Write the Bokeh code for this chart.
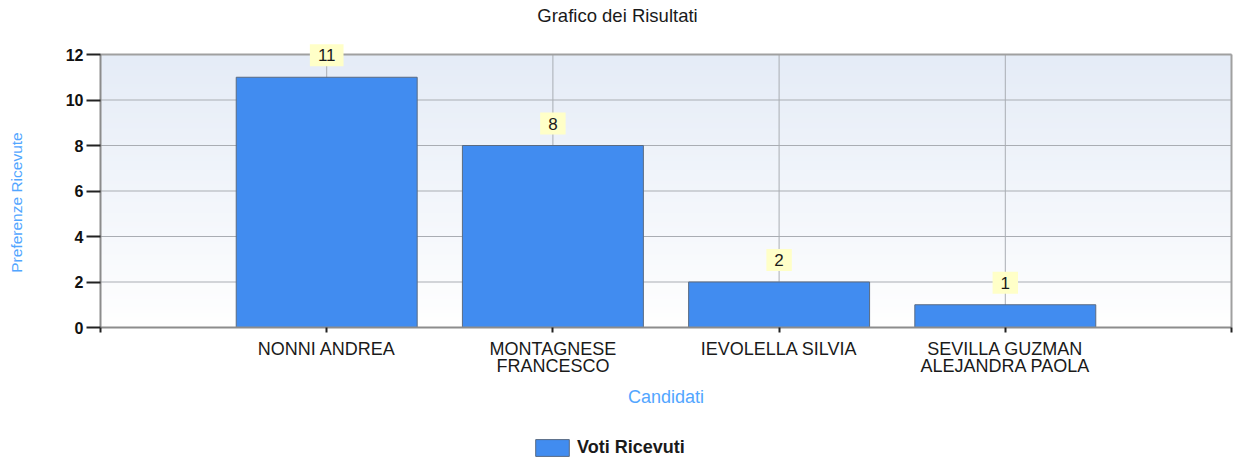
import numpy as np
from bokeh.plotting import figure
from bokeh.models import Range1d, FixedTicker, Label, Legend, LegendItem
from bokeh.embed import file_html
from bokeh.resources import INLINE

# ---- data ----
categories = ["NONNI ANDREA", "MONTAGNESE\nFRANCESCO", "IEVOLELLA SILVIA",
              "SEVILLA GUZMAN\nALEJANDRA PAOLA"]
votes = [11, 8, 2, 1]
y_ticks = [0, 2, 4, 6, 8, 10, 12]
series_name = "Voti Ricevuti"
title_text = "Grafico dei Risultati"
x_title = "Candidati"
y_title = "Preferenze Ricevute"

positions = list(range(1, len(categories) + 1))
X_MAX = len(categories) + 1
Y_MAX = y_ticks[-1]

# ---- layout (pixels of the 1234x461 canvas) ----
W, H = 1234, 461
PLOT_L, PLOT_R, PLOT_T, PLOT_B = 100, 1231, 54, 327
SX = (PLOT_R - PLOT_L) / X_MAX
SY = (PLOT_B - PLOT_T) / Y_MAX


def px2x(px):
    return (px - PLOT_L) / SX


def px2y(py):
    return (PLOT_B - py) / SY


FONT = "Liberation Sans"
GRID = "#a9adb3"
BORDER = "#a0a0a0"
AXIS = "#8c8c8c"
TXT = "#1a1a1a"
BLUE_TXT = "#52a6ff"

p = figure(width=W, height=H, output_backend="svg", toolbar_location=None,
           x_range=Range1d(px2x(0), px2x(W)), y_range=Range1d(px2y(H), px2y(0)),
           min_border=0, title=None)
p.background_fill_color = "white"
p.border_fill_color = "white"
p.outline_line_color = None
p.grid.visible = False

# gradient background of the plot area
n = 256
top_c = np.array([229, 236, 247], dtype=float)
bot_c = np.array([255, 255, 255], dtype=float)
t = np.linspace(0, 1, n)[:, None]  # 0 bottom -> 1 top
rgb = bot_c * (1 - t) + top_c * t
img = np.zeros((n, 1), dtype=np.uint32)
view = img.view(dtype=np.uint8).reshape((n, 1, 4))
view[:, 0, 0] = rgb[:, 0].astype(np.uint8)
view[:, 0, 1] = rgb[:, 1].astype(np.uint8)
view[:, 0, 2] = rgb[:, 2].astype(np.uint8)
view[:, 0, 3] = 255
p.image_rgba(image=[img], x=0, y=0, dw=X_MAX, dh=Y_MAX, level="image")

# grid lines
p.segment(x0=[0] * len(y_ticks), x1=[X_MAX] * len(y_ticks), y0=y_ticks, y1=y_ticks,
          line_color=GRID, line_width=1, level="underlay")
p.segment(x0=positions, x1=positions, y0=[0] * len(positions), y1=[Y_MAX] * len(positions),
          line_color=GRID, line_width=1, level="underlay")
# plot-area border (top, right)
p.segment(x0=[0, X_MAX], x1=[X_MAX, X_MAX], y0=[Y_MAX, 0], y1=[Y_MAX, Y_MAX],
          line_color=BORDER, line_width=2, level="underlay")

bars = p.vbar(x=positions, top=votes, width=0.8, fill_color="#418CF0",
              line_color="#5a6b82", line_width=1)

# value labels
for xv, v in zip(positions, votes):
    p.add_layout(Label(x=xv, y=v, text=str(v), text_align="center",
                       text_baseline="bottom", y_offset=11,
                       text_font=FONT, text_font_size="17px", text_color=TXT,
                       background_fill_color="#ffffc8", padding=(8, 5)))

# y axis (drawn at x = 0)
p.yaxis.fixed_location = 0
p.yaxis.bounds = (0, Y_MAX)
p.yaxis.ticker = FixedTicker(ticks=y_ticks)
p.yaxis.major_tick_out = 14
p.yaxis.major_tick_in = 0
p.yaxis.minor_tick_line_color = None
p.yaxis.major_tick_line_color = "#222222"
p.yaxis.major_tick_line_width = 2
p.yaxis.axis_line_color = AXIS
p.yaxis.axis_line_width = 2
p.yaxis.major_label_text_font = FONT
p.yaxis.major_label_text_font_style = "bold"
p.yaxis.major_label_text_font_size = "16px"
p.yaxis.major_label_text_color = "#111111"
p.yaxis.major_label_standoff = 3

# x axis (drawn at y = 0)
p.xaxis.fixed_location = 0
p.xaxis.bounds = (0, X_MAX)
p.xaxis.ticker = FixedTicker(ticks=[0] + positions + [X_MAX])
overrides = {0: "", X_MAX: ""}
for xv, c in zip(positions, categories):
    overrides[xv] = c
p.xaxis.major_label_overrides = overrides
p.xaxis.major_tick_out = 5
p.xaxis.major_tick_in = 0
p.xaxis.minor_tick_line_color = None
p.xaxis.major_tick_line_color = "#222222"
p.xaxis.major_tick_line_width = 2
p.xaxis.axis_line_color = AXIS
p.xaxis.axis_line_width = 2
p.xaxis.major_label_orientation = "horizontal"
p.xaxis.major_label_text_font = FONT
p.xaxis.major_label_text_font_size = "18px"
p.xaxis.major_label_text_color = TXT
p.xaxis.major_label_text_line_height = 0.85
p.xaxis.major_label_standoff = 6
p.xaxis.axis_label = x_title
p.xaxis.axis_label_text_font = FONT
p.xaxis.axis_label_text_font_size = "18px"
p.xaxis.axis_label_text_font_style = "normal"
p.xaxis.axis_label_text_color = BLUE_TXT
p.xaxis.axis_label_standoff = 8

# chart title and y-axis title
p.add_layout(Label(x=px2x(617), y=px2y(15), text=title_text, text_align="center",
                   text_baseline="alphabetic", text_font=FONT, text_font_size="18.5px",
                   text_color=TXT))
p.add_layout(Label(x=px2x(16), y=px2y(202), text=y_title, angle=np.pi / 2,
                   text_align="center", text_baseline="middle", text_font=FONT,
                   text_font_size="15.5px", text_color=BLUE_TXT))

legend = Legend(items=[LegendItem(label=series_name, renderers=[bars])],
                location=(531, 3), orientation="horizontal",
                glyph_width=42, glyph_height=21, label_height=21,
                label_standoff=4, padding=0, margin=0,
                border_line_color=None, background_fill_alpha=0,
                label_text_font=FONT, label_text_font_size="18px",
                label_text_font_style="bold", label_text_color=TXT)
p.add_layout(legend, "center")

open("out.html", "w").write(file_html(p, INLINE))
